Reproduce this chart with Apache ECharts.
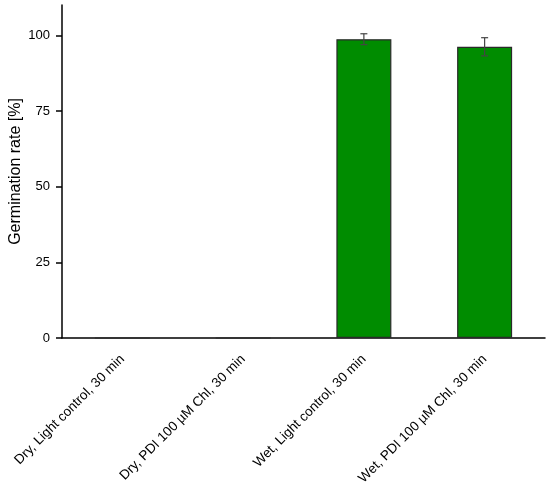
<!DOCTYPE html>
<html><head><meta charset="utf-8">
<script src="https://cdn.jsdelivr.net/npm/echarts@6/dist/echarts.min.js"></script>
<style>html,body{margin:0;padding:0;background:#fff}#c{width:550px;height:491px}</style>
</head><body><div id="c"></div>
<script>
const categories = ['Dry, Light control, 30 min', 'Dry, PDI 100 µM Chl, 30 min', 'Wet, Light control, 30 min', 'Wet, PDI 100 µM Chl, 30 min'];
const means = [0, 0, 98.7, 96.2];
const errors = [0, 0, 1.8, 3.0];
const yTicks = [0, 25, 50, 75, 100];

const chart = echarts.init(document.getElementById('c'));
const errData = categories.map((c, i) => [i, means[i] - errors[i], means[i] + errors[i], errors[i]]);
chart.setOption({
  animation: false,
  grid: {left: 62, right: 5, top: 5, bottom: 153, containLabel: false, outerBoundsMode: 'none'},
  xAxis: {
    type: 'category', data: categories,
    axisLine: {lineStyle: {color: '#000', width: 1.5}},
    axisTick: {alignWithLabel: true, length: 6, lineStyle: {color: '#000', width: 1.5}},
    axisLabel: {rotate: 45, color: '#000', fontFamily: 'Liberation Sans, Arial', fontSize: 13.5, margin: 19}
  },
  yAxis: {
    type: 'value', min: 0, max: 110, interval: 25,
    name: 'Germination rate [%]', nameLocation: 'middle', nameGap: 38, nameMoveOverlap: false,
    nameTextStyle: {color: '#000', fontFamily: 'Liberation Sans, Arial', fontSize: 16},
    splitLine: {show: false},
    axisLine: {show: true, lineStyle: {color: '#000', width: 1.5}},
    axisTick: {show: true, length: 6, customValues: yTicks, lineStyle: {color: '#000', width: 1.5}},
    axisLabel: {customValues: yTicks, color: '#000', fontFamily: 'Liberation Sans, Arial', fontSize: 13, margin: 12}
  },
  series: [{
    type: 'bar', data: means, barWidth: 55,
    itemStyle: {color: '#008c00', borderColor: '#2a2a2a', borderWidth: 1.2}
  }, {
    type: 'custom', data: errData,
    renderItem: function (params, api) {
      if (api.value(3) <= 0) return;
      const lo = api.coord([api.value(0), api.value(1)]);
      const hi = api.coord([api.value(0), api.value(2)]);
      const w = 3.5;
      const st = {stroke: '#444', lineWidth: 1.2};
      return {type: 'group', children: [
        {type: 'line', shape: {x1: hi[0], y1: hi[1], x2: lo[0], y2: lo[1]}, style: st},
        {type: 'line', shape: {x1: hi[0] - w, y1: hi[1], x2: hi[0] + w, y2: hi[1]}, style: st},
        {type: 'line', shape: {x1: lo[0] - w, y1: lo[1], x2: lo[0] + w, y2: lo[1]}, style: st}
      ]};
    },
    z: 10
  }]
});
</script></body></html>
